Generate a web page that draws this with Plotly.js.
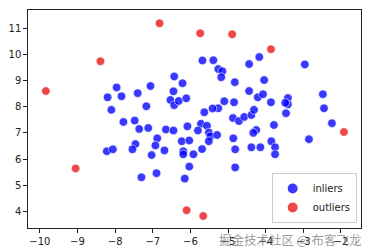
<!DOCTYPE html>
<html>
<head>
<meta charset="utf-8">
<script src="https://cdn.plot.ly/plotly-3.0.1.min.js"></script>
<style>html,body{margin:0;padding:0;background:#fff;}#chart{width:372px;height:252px;}</style>
</head>
<body>
<div id="chart"></div>
<script>
var inlierX = [-6.43,-8.20,-7.96,-7.83,-7.40,-7.06,-8.10,-7.78,-7.48,-7.17,-6.45,-6.53,-6.43,-6.31,-6.21,-6.11,-7.36,-7.12,
  -5.68,-5.39,-5.26,-5.15,-5.18,-4.82,-4.44,-4.17,-2.96,-4.04,-4.44,-4.21,-4.07,-3.86,-3.41,-3.41,-3.48,-3.46,-2.48,-2.45,-2.24,
  -5.10,-4.84,-5.26,-5.41,-5.63,-4.87,-4.71,-4.57,-4.38,-4.31,-3.78,-5.72,-5.56,-6.08,-6.65,-6.45,-5.80,
  -7.46,-6.88,-6.23,-8.22,-8.06,-7.54,-6.93,-6.69,-6.19,-6.19,-7.03,-7.30,-6.90,-6.15,
  -5.51,-5.47,-5.29,-5.51,-6.03,-5.92,-5.69,-6.03,-4.25,-4.33,-4.86,-3.85,-3.75,-3.75,-4.81,-4.38,-4.14,-4.81,-2.85];
var inlierY = [9.16,8.36,8.74,8.40,8.52,8.79,7.88,7.42,7.47,8.02,8.59,8.26,8.06,8.22,8.90,8.32,7.15,7.19,
  9.77,9.78,9.44,9.36,9.13,8.94,9.63,9.90,9.62,9.02,8.60,8.36,8.48,8.17,8.33,8.09,8.15,7.75,8.48,7.94,7.37,
  8.21,8.17,7.94,7.93,7.79,7.57,7.45,7.61,7.68,7.88,7.30,7.35,7.27,7.25,7.13,7.09,7.09,
  6.57,6.79,6.68,6.30,6.37,6.37,6.52,6.33,6.30,6.18,6.15,5.30,5.46,5.25,
  7.01,6.87,6.92,6.68,6.71,6.18,6.38,5.71,7.11,7.00,6.79,6.68,6.45,6.18,6.37,6.45,6.45,5.68,6.76];
var outlierX = [-9.84,-8.39,-6.82,-5.74,-4.89,-3.86,-9.05,-6.10,-5.66,-1.92];
var outlierY = [8.60,9.74,11.19,10.81,10.77,10.20,5.64,4.04,3.82,7.03];
var seriesNames = ["inliers", "outliers"];
var xTicks = [-10,-9,-8,-7,-6,-5,-4,-3,-2];
var yTicks = [4,5,6,7,8,9,10,11];
var watermark = "掘金技术社区 @ 布客飞龙";

var font = {family: "DejaVu Sans, sans-serif", size: 10, color: "#222"};
var traces = [
  {x: inlierX, y: inlierY, mode: "markers", type: "scatter", name: seriesNames[0],
   marker: {color: "rgba(0,0,255,0.78)", size: 8.5, line: {color: "#fff", width: 0.6}}},
  {x: outlierX, y: outlierY, mode: "markers", type: "scatter", name: seriesNames[1],
   marker: {color: "rgba(235,25,25,0.8)", size: 8.5, line: {color: "#fff", width: 0.6}}}
];
function axis(range, ticks) {
  return {range: range, tickmode: "array", tickvals: ticks, ticks: "outside", ticklen: 3.5, tickwidth: 1,
    tickcolor: "#222", showline: true, mirror: true, linecolor: "#222", linewidth: 1.2,
    showgrid: false, zeroline: false, tickfont: font};
}
var layout = {
  width: 372, height: 252,
  margin: {l: 27.5, r: 10.5, t: 10, b: 24, pad: 0},
  paper_bgcolor: "#fff", plot_bgcolor: "#fff",
  xaxis: axis([-10.315, -1.467], xTicks),
  yaxis: axis([3.361, 11.70], yTicks),
  showlegend: true,
  legend: {x: 0.987, y: 0.023, xanchor: "right", yanchor: "bottom", bgcolor: "rgba(255,255,255,0.85)",
    bordercolor: "#ccc", borderwidth: 1, font: {family: "DejaVu Sans, sans-serif", size: 10, color: "#222"},
    itemsizing: "constant", itemwidth: 30, tracegroupgap: 0},
  annotations: [{text: watermark, xref: "paper", yref: "paper", x: 1.005, y: -0.055, xanchor: "right", yanchor: "middle",
    showarrow: false, font: {family: "Noto Sans CJK SC, sans-serif", size: 12.5, color: "rgba(110,110,110,0.7)"}}]
};
Plotly.newPlot("chart", traces, layout, {staticPlot: true, displayModeBar: false});
</script>
</body>
</html>
